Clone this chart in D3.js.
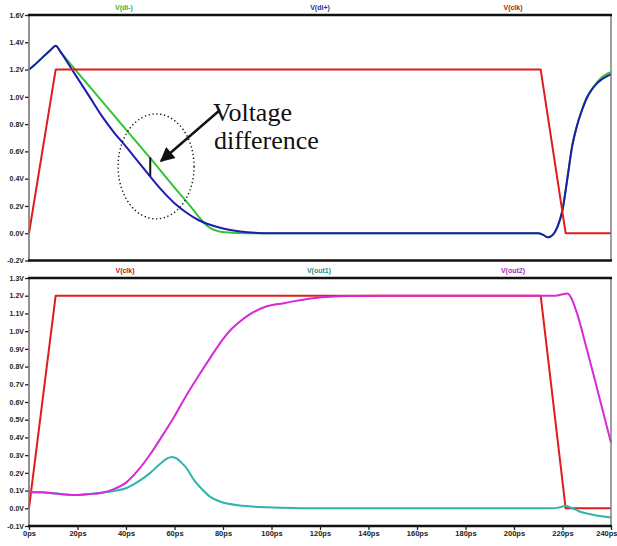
<!DOCTYPE html>
<html>
<head>
  <meta charset="UTF-8">
  <title>Sense amp waveforms</title>
  <script src="https://cdn.jsdelivr.net/npm/d3@7/dist/d3.min.js"></script>
  <style>
    body { margin: 0; background: #fff; }
    .tick text { font-family: "Liberation Sans", Arial, sans-serif; font-weight: bold; }
  </style>
</head>
<body>

<div class="chart"></div>

<script>

  // time axis (ps)
  var timeTicks = [0, 20, 40, 60, 80, 100, 120, 140, 160, 180, 200, 220, 240];
  var topTicks = [-0.2, 0.0, 0.2, 0.4, 0.6, 0.8, 1.0, 1.2, 1.4, 1.6];
  var botTicks = [-0.1, 0.0, 0.1, 0.2, 0.3, 0.4, 0.5, 0.6, 0.7, 0.8, 0.9, 1.0, 1.1, 1.2, 1.3];

  // V(clk) - same in both panels
  var clkT = [0, 11, 211, 221.3, 240];
  var clkV = [0, 1.2, 1.2, 0, 0];

  // V(di-)
  var diMinusT = [0, 2, 9, 11, 13, 20, 30, 40, 50, 60, 66, 70, 72.5, 75, 78, 82, 90, 210, 212, 214, 216, 218, 220, 222, 224, 226, 228, 230, 232, 234, 236, 238, 240];
  var diMinusV = [1.2, 1.23, 1.345, 1.375, 1.33, 1.18, 0.97, 0.76, 0.55, 0.335, 0.21, 0.12, 0.07, 0.035, 0.015, 0.005, 0, 0, -0.012, -0.03, -0.012, 0.05, 0.17, 0.4, 0.64, 0.79, 0.905, 0.995, 1.055, 1.1, 1.14, 1.165, 1.18];

  // V(di+)
  var diPlusT = [0, 2, 9, 11, 13, 17.7, 25, 30, 35, 40, 45, 50, 55, 60, 65, 70, 75, 80, 85, 90, 100, 210, 212, 214, 216, 218, 220, 222, 224, 226, 228, 230, 232, 234, 236, 238, 240];
  var diPlusV = [1.2, 1.23, 1.345, 1.375, 1.33, 1.2, 1.0, 0.86, 0.74, 0.635, 0.525, 0.415, 0.31, 0.22, 0.15, 0.095, 0.06, 0.035, 0.018, 0.008, 0, 0, -0.012, -0.03, -0.012, 0.05, 0.17, 0.4, 0.64, 0.79, 0.9, 0.99, 1.05, 1.095, 1.125, 1.148, 1.165];

  // V(out1)
  var out1T = [0, 5, 10, 15, 20, 25, 30, 35, 40, 45, 50, 54, 57, 59, 61, 63, 65, 68, 70.5, 74.6, 78.8, 88, 98, 110, 120, 216, 219, 221.3, 224, 227, 232, 236, 240];
  var out1V = [0.09, 0.09, 0.085, 0.078, 0.075, 0.08, 0.088, 0.098, 0.113, 0.15, 0.2, 0.25, 0.282, 0.29, 0.28, 0.255, 0.226, 0.16, 0.12, 0.066, 0.038, 0.014, 0.006, 0.001, 0, 0, 0.006, 0.014, 0, -0.018, -0.035, -0.045, -0.052];

  // V(out2)
  var out2T = [0, 5, 10, 15, 20, 25, 30, 35, 40, 45, 50, 55, 60, 65, 70, 75, 80, 83, 87, 91, 97, 105, 118, 132, 145, 217, 220, 222, 223.5, 226, 230, 235.5, 240];
  var out2V = [0.09, 0.09, 0.085, 0.078, 0.075, 0.08, 0.088, 0.108, 0.145, 0.215, 0.305, 0.41, 0.52, 0.64, 0.75, 0.855, 0.955, 1.005, 1.055, 1.095, 1.135, 1.158, 1.187, 1.198, 1.2, 1.2, 1.208, 1.212, 1.19, 1.1, 0.9, 0.61, 0.37];

  // annotation: marker between the two bit lines at t=50ps
  var markT = 50, markHi = 0.556, markLo = 0.42;

  var width = 617, height = 546;

  var svg = d3.select('.chart')
    .append('svg')
      .attr('width', width)
      .attr('height', height)
      .style('display', 'block');

  var xScale = d3.scaleLinear().domain([0, 240]).range([29, 611]);
  var yTop = d3.scaleLinear().domain([-0.2, 1.6]).range([260.5, 15]);
  var yBot = d3.scaleLinear().domain([-0.1, 1.3]).range([526, 278]);

  function zip(ts, vs) { return ts.map((t, i) => ({ t: t, v: vs[i] })); }

  function drawPanel(yScale, ticks, series, legend, legendY) {
    var g = svg.append('g');

    // left axis with ticks + labels
    var ax = g.append('g')
      .attr('transform', `translate(${xScale.range()[0]}, 0)`)
      .call(d3.axisLeft(yScale).tickValues(ticks).tickSize(4).tickPadding(1)
        .tickFormat(d => d.toFixed(1) + 'V'));
    ax.select('.domain').remove();
    ax.selectAll('.tick line').attr('stroke', '#222').attr('stroke-width', 1.3);
    ax.selectAll('.tick text').style('font-size', '7px').attr('fill', '#222');

    // the series
    series.forEach(s => {
      var line = d3.line()
        .x(d => xScale(d.t))
        .y(d => yScale(d.v))
        .curve(s.curve || d3.curveMonotoneX);
      g.append('path')
        .datum(zip(s.t, s.v))
        .attr('d', line)
        .style('fill', 'none')
        .style('stroke', s.color)
        .style('stroke-width', s.w || 2)
        .style('stroke-linejoin', 'round');
    });

    // frame
    var x0 = xScale.range()[0], x1 = xScale.range()[1];
    var yT = yScale.range()[1], yB = yScale.range()[0];
    g.append('line').attr('x1', x0).attr('x2', x0).attr('y1', yT).attr('y2', yB)
      .attr('stroke', '#777').attr('stroke-width', 1.6);
    g.append('line').attr('x1', x1).attr('x2', x1).attr('y1', yT).attr('y2', yB)
      .attr('stroke', '#777').attr('stroke-width', 1.4);
    g.append('line').attr('x1', x0 - 1).attr('x2', x1 + 1).attr('y1', yT).attr('y2', yT)
      .attr('stroke', '#111').attr('stroke-width', 2.4);
    g.append('line').attr('x1', x0 - 1).attr('x2', x1 + 1).attr('y1', yB).attr('y2', yB)
      .attr('stroke', '#111').attr('stroke-width', 2.4);

    // trace names above the panel
    g.selectAll('.legend')
      .data(legend)
      .enter()
      .append('text')
        .attr('x', d => d.x)
        .attr('y', legendY)
        .attr('text-anchor', 'middle')
        .style('font-family', '"Liberation Sans", Arial, sans-serif')
        .style('font-weight', 'bold')
        .style('font-size', '7px')
        .attr('fill', d => d.color)
        .text(d => d.name);

    return g;
  }

  // top panel: bit lines
  var topPanel = drawPanel(yTop, topTicks, [
    { t: diMinusT, v: diMinusV, color: '#33c433' },
    { t: diPlusT, v: diPlusV, color: '#1c1cb0' },
    { t: clkT, v: clkV, color: '#e01c1c', curve: d3.curveLinear }
  ], [
    { name: 'V(di-)', x: 124, color: '#2fb52f' },
    { name: 'V(di+)', x: 320, color: '#2b2b9c' },
    { name: 'V(clk)', x: 513, color: '#a82020' }
  ], 10);

  // bottom panel: outputs
  var botPanel = drawPanel(yBot, botTicks, [
    { t: clkT, v: clkV, color: '#e01c1c', curve: d3.curveLinear },
    { t: out1T, v: out1V, color: '#2fb3b0' },
    { t: out2T, v: out2V, color: '#d62ad8' }
  ], [
    { name: 'V(clk)', x: 125, color: '#a82020' },
    { name: 'V(out1)', x: 319, color: '#2a8a8a' },
    { name: 'V(out2)', x: 513, color: '#a82ab8' }
  ], 273);

  // x axis under the bottom panel
  var xa = botPanel.append('g')
    .attr('transform', `translate(0, ${yBot.range()[0]})`)
    .call(d3.axisBottom(xScale).tickValues(timeTicks).tickSize(4).tickPadding(1)
      .tickFormat(d => d + 'ps'));
  xa.select('.domain').remove();
  xa.selectAll('.tick line').attr('stroke', '#222').attr('stroke-width', 1.3);
  xa.selectAll('.tick text').style('font-size', '7.5px').attr('fill', '#222');
  // keep the last label inside the window
  xa.selectAll('.tick text').filter(d => d === 240).attr('text-anchor', 'end').attr('dx', 6);

  // annotation in the top panel
  var ann = topPanel.append('g');
  ann.append('ellipse')
    .attr('cx', xScale(52.4))
    .attr('cy', yTop(0.49))
    .attr('rx', 38)
    .attr('ry', 52.5)
    .style('fill', 'none')
    .style('stroke', '#111')
    .style('stroke-width', 1.4)
    .style('stroke-dasharray', '1.3,2.6');

  ann.append('line')
    .attr('x1', xScale(markT)).attr('x2', xScale(markT))
    .attr('y1', yTop(markHi)).attr('y2', yTop(markLo))
    .attr('stroke', '#111').attr('stroke-width', 2);

  svg.append('defs').append('marker')
      .attr('id', 'head')
      .attr('viewBox', '0 0 10 10')
      .attr('refX', 9).attr('refY', 5)
      .attr('markerWidth', 7).attr('markerHeight', 6)
      .attr('markerUnits', 'strokeWidth')
      .attr('orient', 'auto')
    .append('path')
      .attr('d', 'M0,0 L10,5 L0,10 z')
      .attr('fill', '#111');

  ann.append('line')
    .attr('x1', 220).attr('y1', 110)
    .attr('x2', 161).attr('y2', 161)
    .attr('stroke', '#111').attr('stroke-width', 2.4)
    .attr('marker-end', 'url(#head)');

  var txt = ann.append('text')
    .style('font-family', '"Liberation Serif", "Times New Roman", serif')
    .style('font-size', '26px')
    .attr('fill', '#111');
  txt.append('tspan').attr('x', 213).attr('y', 121).text('Voltage');
  txt.append('tspan').attr('x', 214).attr('y', 149).text('difference');

</script>

</body>
</html>
